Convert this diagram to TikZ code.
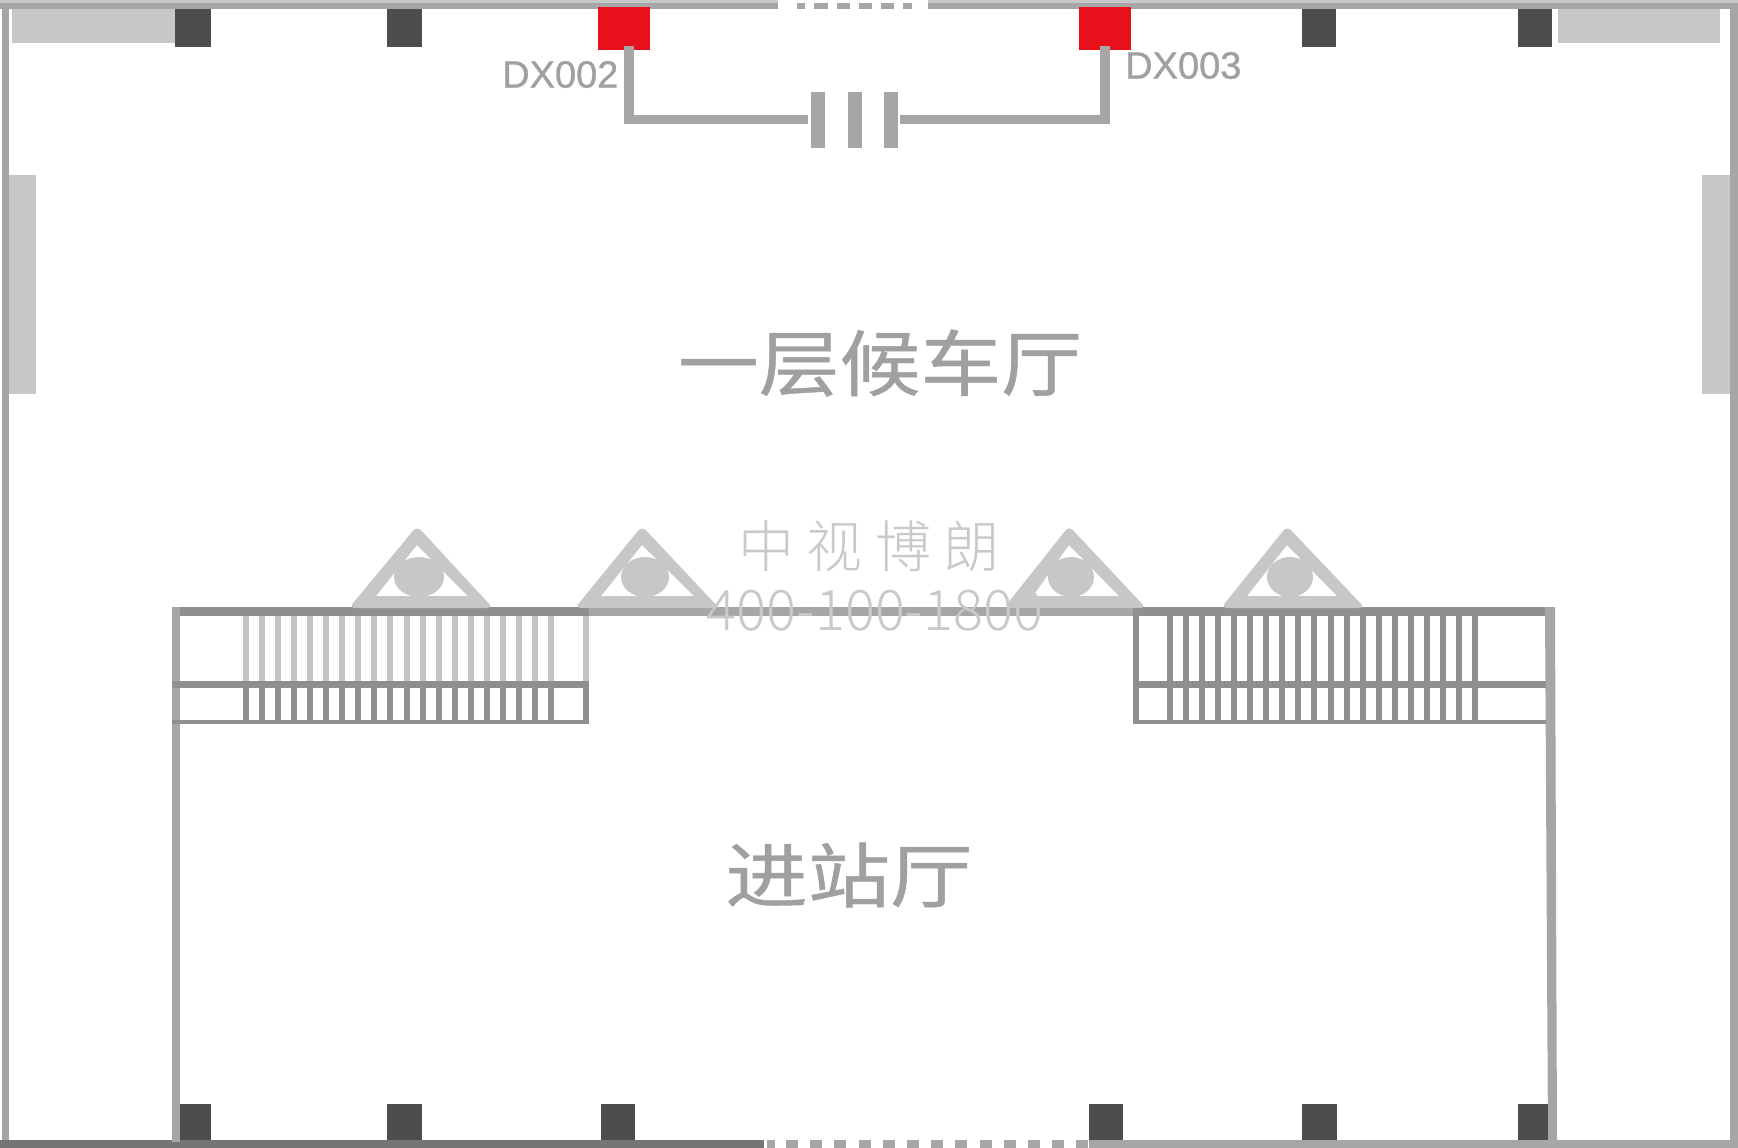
\documentclass[tikz,border=0pt]{standalone}
\usepackage{fontspec}
\newfontfamily\cjk[FakeBold=0.6]{Noto Sans CJK SC}
\IfFontExistsTF{Noto Sans CJK SC Light}{\newfontfamily\cjkthin{Noto Sans CJK SC Light}}{\newfontfamily\cjkthin{Noto Sans CJK SC}}
\setmainfont{Liberation Sans}
\newfontfamily\tagfont[FakeBold=0.8]{Liberation Sans}
\definecolor{wallc}{HTML}{A6A6A6}
\definecolor{walldark}{HTML}{8F8F8F}
\definecolor{wallbot}{HTML}{757575}
\definecolor{lightc}{HTML}{C6C7C9}
\definecolor{colc}{HTML}{4D4D4D}
\definecolor{redc}{HTML}{E8101A}
\definecolor{slatlight}{HTML}{C4C4C4}
\definecolor{wmc}{HTML}{C9C9C9}
\definecolor{textc}{HTML}{A0A0A0}
\newcommand{\rr}[5]{\fill[#1] (#2,#3) rectangle (#4,#5);}
\tikzset{
  roomlabel/.style={text=textc,font=\cjk\fontsize{80}{80}\selectfont,inner sep=0pt},
  tag/.style={text=textc,font=\tagfont\fontsize{38}{38}\selectfont,inner sep=0pt},
  wmark/.style={text=wmc,inner sep=0pt},
}
% apex x, outer left, outer right, inner apex x, inner left, inner right, circle x, rx
\newcommand{\tri}[8]{%
  \fill[lightc,even odd rule] [rounded corners=6pt] (#1,526) -- (#2-4,608) -- (#3+4,608) -- cycle
     [sharp corners] (#4,545) -- (#5,596) -- (#6,596) -- cycle;
  \fill[lightc] (#7,577) ellipse ({#8} and 20);
}
\begin{document}
\begin{tikzpicture}[x=1pt,y=-1pt]
\useasboundingbox (0,0) rectangle (1738,1148);
\fill[white] (0,0) rectangle (1738,1148);
% outer walls
\rr{lightc}{0}{0}{778}{3}
\rr{lightc}{928}{0}{1738}{3}
\rr{wallc}{0}{3}{778}{9}
\rr{wallc}{928}{3}{1738}{9}
\foreach \x/\w in {797/8,814/14,837/13,859/13,881/13,903/9}{\fill[wallc] (\x,3) rectangle ++(\w,6);}
\rr{wallc}{2}{3}{9}{1148}
\rr{wallc}{1730}{3}{1738}{1148}
% bottom wall
\rr{wallbot}{0}{1140}{764}{1148}
\rr{wallc}{1089}{1140}{1738}{1148}
\foreach \i in {0,...,12}{\fill[wallc] ({787+24.2*\i-1},1140) rectangle ++(12,8);}
\rr{wallc}{767}{1140}{775}{1148}
% side and corner panels
\rr{lightc}{12}{9}{175}{43}
\rr{lightc}{1558}{9}{1720}{43}
\rr{lightc}{9}{175}{36}{394}
\rr{lightc}{1702}{175}{1730}{394}
% top columns
\foreach \a/\b in {175/211,387/422,1302/1336,1518/1552}{\fill[colc] (\a,9) rectangle (\b,47);}
% red units
\rr{redc}{598}{7}{650}{50}
\rr{redc}{1079}{7}{1131}{50}
% connector lines
\rr{wallc}{624}{46}{634}{124}
\rr{wallc}{624}{115}{808}{124}
\rr{wallc}{1100}{46}{1110}{124}
\rr{wallc}{900}{115}{1110}{124}
\rr{wallc}{811}{92}{825}{148}
\rr{wallc}{848}{92}{862}{148}
\rr{wallc}{884}{92}{898}{148}
% labels
\node[tag,anchor=west] (dxa) at (502,74.5) {DX002};
\node[tag,anchor=west] (dxb) at (1125,65.5) {DX003};
\node[roomlabel] (hall) at (880,363) {\scalebox{1.01}[0.9]{一层候车厅}};
\node[roomlabel] (entry) at (849,875) {\scalebox{1.03}[0.88]{进站厅}};
% inner building walls
\rr{wallc}{589}{607}{1133}{616}
\rr{walldark}{172}{607}{589}{616}
\rr{walldark}{1133}{607}{1555}{616}
\rr{wallc}{172}{607}{180}{1142}
\fill[wallc] (1545,607) -- (1555,607) -- (1557,1142) -- (1548,1142) -- cycle;
% left stairs
\foreach \i in {0,...,19}{
  \fill[slatlight] ({246+16.05*\i-3},616) rectangle ++(6,66);
  \fill[walldark] ({246+16.05*\i-3},688) rectangle ++(6,33);
}
\rr{slatlight}{583}{616}{589}{682}
\rr{walldark}{583}{682}{589}{724}
\rr{walldark}{172}{681}{589}{688}
\rr{walldark}{172}{720}{589}{724}
% right stairs
\foreach \i in {0,...,19}{
  \fill[walldark] ({1169.5+16.1*\i-3},616) rectangle ++(6,105);
}
\rr{walldark}{1133}{616}{1139}{724}
\rr{walldark}{1133}{681}{1546}{688}
\rr{walldark}{1133}{720}{1546}{724}
% triangles
\tri{417}{353}{489}{417}{376}{468}{419}{25}
\tri{642}{579}{715}{642}{601}{694}{645}{24}
\tri{1069}{1008}{1142}{1069}{1033}{1119}{1071}{23}
\tri{1287}{1225}{1361}{1287}{1247}{1337}{1290}{23}
% bottom columns
\foreach \a/\b in {180/211,387/422,601/635,1089/1123,1302/1337,1518/1548}{\fill[colc] (\a,1104) rectangle (\b,1140);}
% watermark
\node[wmark,font=\cjkthin\fontsize{56}{56}\selectfont] (wma) at (869,546) {中\hspace{12.5pt}视\hspace{12.5pt}博\hspace{12.5pt}朗};
\node[wmark,font=\cjkthin\fontsize{56}{56}\selectfont] (wmb) at (875,611) {400-100-1800};
\end{tikzpicture}
\end{document}
